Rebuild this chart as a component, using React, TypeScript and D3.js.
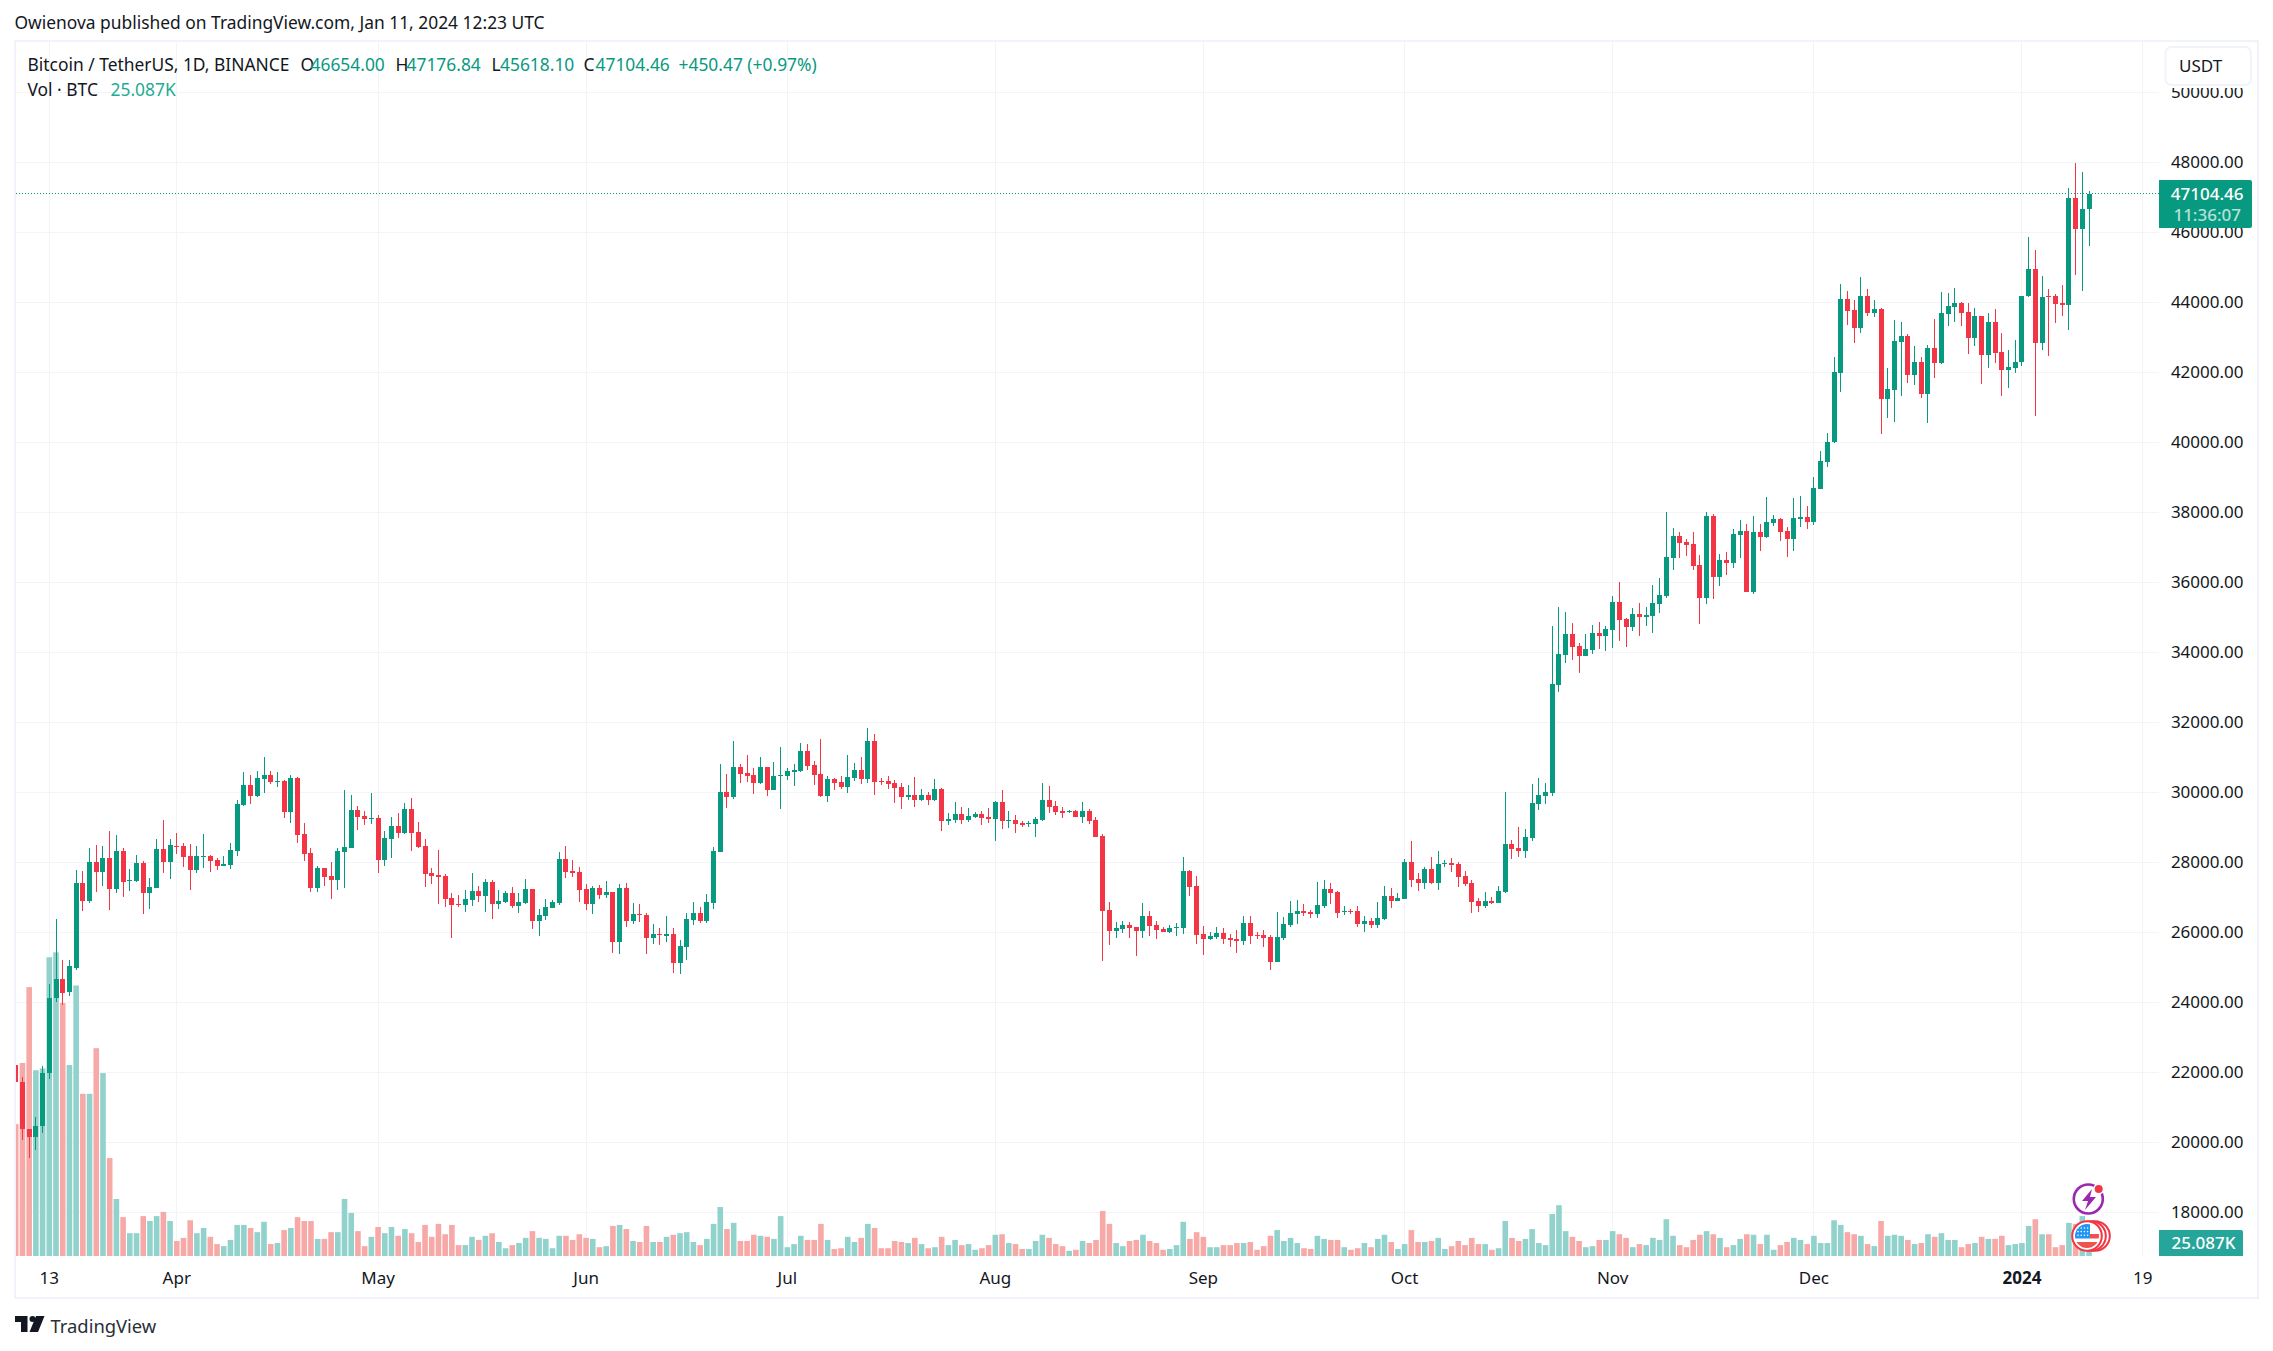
import * as React from 'react'
import * as d3 from 'd3'

const WIDTH = 2273
const HEIGHT = 1351
const FONT = '"Noto Sans", sans-serif'

// daily candles, first one is 2023-03-08
const firstDay = new Date(Date.UTC(2023, 2, 8))

const opens = [
  22218, 21720, 20370, 20150, 20460, 21990, 24113, 24670, 24285, 24990, 27410, 26895, 28010, 27724, 28124, 27238, 28324, 27476, 27467, 27981,
  27124, 27267, 28381, 28010, 28476, 28467, 28181, 27781, 28162, 28181, 28067, 27895, 27924, 28324, 29638, 30210, 29895, 30381, 30495, 30300,
  30324, 29438, 30410, 28810, 28267, 27267, 27838, 27610, 27495, 28295, 28410, 29495, 29324, 29238, 29267, 28067, 28667, 29038, 28838, 29524,
  28867, 28467, 27695, 27638, 27610, 26981, 26800, 26781, 26924, 27181, 27038, 27438, 26810, 26867, 27124, 26752, 26838, 27238, 26324, 26467,
  26695, 26838, 28095, 27752, 27724, 27238, 26810, 27267, 27067, 27152, 25724, 27267, 26324, 26524, 26495, 25838, 25952, 25895, 25952, 25124,
  25581, 26352, 26552, 26324, 26838, 28295, 30010, 29867, 30724, 30552, 30495, 30267, 30724, 30067, 30467, 30467, 30581, 30610, 31181, 30781,
  30524, 29895, 30381, 30295, 30152, 30410, 30638, 30381, 31467, 30324, 30324, 30267, 30152, 29867, 29924, 29781, 29924, 29781, 30095, 29181,
  29210, 29381, 29210, 29295, 29381, 29295, 29238, 29724, 29181, 29210, 29124, 29095, 29095, 29210, 29781, 29610, 29467, 29438, 29467, 29295,
  29467, 29210, 28752, 26638, 26038, 26095, 26210, 26152, 26038, 26467, 26210, 26095, 26010, 26124, 26124, 27752, 27324, 25952, 25810, 25867,
  25981, 25838, 25810, 25752, 26267, 25924, 25924, 25867, 25152, 25838, 26210, 26524, 26610, 26581, 26524, 26752, 27238, 27152, 26581, 26610,
  26610, 26238, 26324, 26210, 26381, 27038, 26895, 26952, 28010, 27524, 27410, 27810, 27410, 27952, 27981, 27952, 27610, 27410, 26895, 26752,
  26895, 26838, 27152, 28524, 28410, 28324, 28695, 29667, 29895, 29981, 33067, 33924, 34524, 34181, 33895, 34067, 34552, 34467, 34638, 35438,
  34952, 34724, 35095, 35010, 35038, 35381, 35610, 36695, 37324, 37152, 37095, 36495, 35552, 37895, 36152, 36638, 36552, 37352, 37467, 35724,
  37438, 37295, 37695, 37810, 37467, 37238, 37810, 37867, 37724, 38667, 39438, 40000, 41990, 44095, 43781, 43267, 44181, 43705, 43810, 41248,
  41495, 42867, 43038, 41924, 42295, 41381, 42695, 42267, 43676, 43867, 43981, 43724, 42981, 43610, 42495, 43438, 42581, 42067, 42124, 42283,
  44179, 44946, 42845, 44181, 44181, 43971, 43924, 46981, 46095, 46654,
]

const highs = [
  22322, 21860, 20370, 20710, 22180, 24530, 26386, 25200, 25200, 27781, 27752, 28410, 28495, 28467, 28895, 28781, 28410, 27810, 28210, 28038,
  27552, 28667, 29210, 28667, 28838, 28552, 28524, 28467, 28810, 28210, 28124, 28181, 28552, 29781, 30581, 30495, 30610, 31010, 30610, 30581,
  30352, 30495, 30438, 29124, 28410, 27895, 27838, 28010, 28410, 30067, 29924, 29610, 29467, 29981, 29352, 28895, 29295, 29410, 29695, 29838,
  29152, 28667, 27838, 28352, 27667, 27124, 27067, 27210, 27695, 27324, 27524, 27495, 27210, 27181, 27295, 27124, 27524, 27238, 26667, 26952,
  26924, 28295, 28467, 28067, 27867, 27381, 27324, 27352, 27467, 27152, 27381, 27410, 26838, 26810, 26552, 26238, 26124, 26467, 26124, 25781,
  26552, 26867, 26724, 27095, 28438, 30810, 30524, 31467, 30810, 31067, 30695, 31010, 30724, 30867, 31295, 30695, 30810, 31410, 31381, 30895,
  31524, 30467, 30410, 30467, 31067, 30838, 31010, 31838, 31667, 30410, 30467, 30352, 30267, 30210, 30438, 30095, 30010, 30381, 30124, 29410,
  29724, 29581, 29552, 29438, 29467, 29552, 29752, 30067, 29467, 29352, 29181, 29181, 29295, 30267, 30181, 29752, 29581, 29495, 29495, 29724,
  29524, 29295, 28810, 26867, 26295, 26324, 26295, 26152, 26838, 26610, 26324, 26152, 26210, 26267, 28152, 27781, 27610, 26181, 26010, 26152,
  26124, 25952, 26067, 26467, 26467, 26010, 26067, 25924, 26581, 26438, 26895, 26924, 26810, 26638, 27438, 27495, 27410, 27181, 26752, 26667,
  26752, 26467, 26410, 26867, 27324, 27267, 27124, 28095, 28610, 27695, 27867, 28152, 28324, 28067, 28124, 28010, 27752, 27495, 26981, 27152,
  27010, 27324, 30010, 28638, 29010, 28952, 30238, 30410, 30267, 34752, 35295, 35152, 34838, 34267, 34524, 34781, 34867, 34752, 35610, 36010,
  34981, 35267, 35410, 35295, 35924, 36124, 38010, 37552, 37438, 37238, 37438, 36781, 38010, 37952, 36810, 36867, 37524, 37781, 37667, 37895,
  37667, 38438, 37924, 37838, 37581, 38410, 38467, 38181, 39010, 39752, 40267, 42429, 44524, 44324, 44067, 44724, 44381, 44067, 43838, 42124,
  43495, 43438, 43095, 42752, 42429, 42771, 43524, 44295, 44267, 44410, 44010, 43981, 43838, 43610, 43695, 43810, 43124, 42638, 42924, 44184,
  45879, 45500, 44752, 44381, 44238, 44495, 47267, 47981, 47724, 47176.84,
]

const lows = [
  21632, 20070, 19549, 19790, 20271, 21813, 24020, 23930, 24170, 24923, 26610, 26840, 27150, 27324, 26638, 27124, 27010, 27181, 27438, 26524,
  26667, 27267, 27695, 27524, 28238, 27867, 27210, 27695, 27838, 27724, 27781, 27895, 27810, 28181, 29610, 29667, 29867, 29981, 30238, 30152,
  29267, 29124, 28552, 28038, 27152, 27152, 27324, 26952, 27210, 27267, 28410, 28924, 29067, 29095, 27695, 27895, 28124, 28695, 28810, 28324,
  28410, 27295, 27381, 26810, 26724, 25838, 26724, 26581, 26752, 26867, 26581, 26381, 26667, 26838, 26695, 26552, 26810, 26095, 25895, 26352,
  26695, 26781, 27552, 27581, 26867, 26638, 26524, 26952, 26981, 25410, 25381, 26152, 26238, 26295, 25381, 25667, 25638, 25724, 24838, 24810,
  25210, 26210, 26267, 26267, 26667, 28295, 29552, 29810, 30267, 30295, 29952, 30238, 29895, 30067, 29524, 30352, 30181, 30581, 30638, 30210,
  29867, 29724, 30067, 30095, 29981, 30324, 30238, 30267, 29924, 30210, 30095, 29695, 29524, 29781, 29581, 29752, 29638, 29752, 28895, 29067,
  29124, 29095, 29152, 29267, 29067, 29124, 28610, 28952, 28981, 28838, 29010, 29010, 28724, 29181, 29410, 29352, 29267, 29410, 29295, 29124,
  29095, 28724, 25181, 25638, 25838, 25981, 25838, 25324, 25838, 25895, 25810, 26010, 25981, 25895, 25952, 27038, 25667, 25352, 25781, 25810,
  25667, 25581, 25410, 25638, 25667, 25810, 25581, 24924, 25152, 25781, 26152, 26238, 26467, 26410, 26410, 26695, 26810, 26410, 26495, 26524,
  26152, 26010, 26124, 26124, 26352, 26695, 26895, 26952, 27295, 27181, 27238, 27381, 27210, 27867, 27724, 27295, 27324, 26552, 26581, 26695,
  26810, 26838, 27124, 28095, 28152, 28124, 28610, 29495, 29667, 29895, 32867, 33695, 33781, 33410, 33895, 33952, 34095, 34038, 34124, 34324,
  34152, 34610, 34467, 34752, 34552, 35124, 35552, 36352, 36695, 36752, 36352, 34810, 35381, 35524, 35895, 36210, 36410, 36695, 35724, 35667,
  36895, 37267, 37610, 37181, 36724, 36895, 37581, 37524, 37638, 38667, 39295, 39971, 41448, 43352, 42848, 43114, 43619, 43590, 40238, 40705,
  40590, 41324, 41705, 41638, 41276, 40562, 41848, 42248, 43324, 43448, 43324, 42524, 42762, 41667, 42124, 42267, 41324, 41552, 41981, 42180,
  44148, 40750, 42638, 42467, 43419, 43610, 43210, 44781, 44324, 45618.1,
]

const closes = [
  21724, 20368, 20150, 20460, 21990, 24113, 24670, 24270, 25050, 27410, 26895, 28010, 27724, 28124, 27238, 28324, 27438, 27495, 27981, 27124,
  27295, 28381, 28010, 28495, 28457, 28152, 27781, 28181, 28181, 28038, 27895, 27962, 28352, 29667, 30210, 29895, 30410, 30495, 30295, 30315,
  29438, 30410, 28781, 28238, 27267, 27838, 27581, 27495, 28324, 28438, 29495, 29295, 29238, 29267, 28067, 28695, 29038, 28838, 29524, 28838,
  28438, 27667, 27610, 27581, 26952, 26781, 26781, 26952, 27181, 27038, 27438, 26810, 26895, 27124, 26752, 26867, 27238, 26324, 26495, 26724,
  26867, 28095, 27724, 27695, 27210, 26810, 27267, 27067, 27152, 25724, 27267, 26324, 26524, 26495, 25838, 25952, 25924, 25952, 25124, 25610,
  26381, 26552, 26324, 26867, 28324, 30010, 29867, 30724, 30524, 30467, 30267, 30724, 30067, 30467, 30486, 30610, 30638, 31181, 30752, 30495,
  29895, 30381, 30267, 30152, 30438, 30638, 30381, 31467, 30295, 30295, 30238, 30124, 29867, 29924, 29781, 29924, 29781, 30095, 29181, 29238,
  29381, 29210, 29324, 29381, 29267, 29238, 29724, 29181, 29210, 29095, 29067, 29124, 29238, 29781, 29581, 29438, 29410, 29467, 29295, 29467,
  29181, 28724, 26610, 26038, 26124, 26210, 26124, 26038, 26467, 26181, 26067, 26010, 26124, 26152, 27752, 27295, 25924, 25810, 25895, 25981,
  25810, 25781, 25752, 26267, 25895, 25895, 25838, 25152, 25867, 26238, 26552, 26610, 26552, 26524, 26781, 27238, 27124, 26552, 26610, 26581,
  26238, 26324, 26210, 26410, 27038, 26895, 26981, 28010, 27495, 27410, 27810, 27410, 27952, 27970, 27924, 27581, 27381, 26867, 26752, 26895,
  26838, 27181, 28524, 28381, 28324, 28724, 29695, 29924, 30010, 33095, 33952, 34524, 34152, 33895, 34095, 34552, 34467, 34667, 35438, 34924,
  34724, 35095, 35010, 35067, 35410, 35638, 36724, 37324, 37124, 37067, 36467, 35552, 37895, 36152, 36638, 36552, 37381, 37467, 35724, 37438,
  37295, 37724, 37810, 37438, 37238, 37838, 37867, 37724, 38695, 39467, 40010, 42000, 44095, 43762, 43267, 44181, 43705, 43810, 41248, 41524,
  42895, 43038, 41924, 42295, 41381, 42695, 42276, 43695, 43895, 43981, 43705, 42990, 43610, 42495, 43438, 42552, 42067, 42152, 42295, 44179,
  44946, 42845, 44151, 44160, 43962, 43924, 46981, 46095, 46667, 47104.46,
]

// volume in thousands of BTC
const volumes = [
  254.5, 372.5, 519, 358.5, 362, 576.6, 586, 488, 368.6, 522, 313, 313, 401, 353, 189, 110, 75, 44, 44, 77,
  67.5, 77, 85, 67.5, 29, 35, 69, 44, 54, 37, 23, 19, 31, 60, 60, 54, 46, 66, 23, 25,
  50, 54, 75, 67.5, 67.5, 33, 33, 46, 46, 110, 83, 48, 19, 37, 56, 44, 56, 39, 52, 44,
  27, 60, 37, 62, 42, 60, 21, 21, 37, 31, 39, 44, 27, 15, 21, 25, 35, 48, 35, 33,
  15, 39, 39, 31, 42, 35, 33, 17, 19, 58, 60, 52, 29, 27, 58, 27, 27, 37, 41, 44,
  46, 27, 21, 33, 62, 94.5, 52, 64, 29, 29, 41, 39, 37, 33, 77, 17, 23, 39, 31, 31,
  62, 31, 13.5, 15, 37, 27, 35, 62, 54, 15, 15, 29, 27, 25, 35, 23, 15, 17, 37, 21,
  31, 21, 23, 12, 15, 21, 41, 42, 25, 23, 13.5, 13.5, 29, 41, 35, 23, 19, 10, 12, 29,
  25, 31, 87, 62, 25, 19, 29, 31, 41, 29, 25, 12, 13.5, 21, 66, 33, 46, 37, 17, 17,
  21, 21, 25, 25, 27, 12, 19, 39, 50, 29, 35, 25, 15, 13.5, 39, 33, 31, 31, 17, 12,
  15, 25, 17, 33, 41, 27, 13.5, 23, 50, 27, 27, 29, 35, 13.5, 19, 29, 21, 35, 23, 23,
  12, 15, 67.5, 35, 29, 33, 52, 25, 21, 81, 98, 48, 37, 29, 17, 19, 31, 31, 48, 42,
  35, 17, 23, 21, 35, 31, 71, 39, 21, 17, 31, 41, 48, 42, 35, 17, 21, 33, 42, 41,
  23, 41, 12, 21, 27, 35, 31, 23, 39, 25, 25, 69, 60, 46, 42, 39, 23, 19, 67.5, 39,
  41, 39, 31, 23, 25, 42, 37, 44, 31, 31, 17, 23, 25, 37, 33, 33, 39, 21, 23, 25,
  58, 71, 42, 42, 17, 21, 64, 62, 77, 25.087,
]

const priceTicks = [50000, 48000, 46000, 44000, 42000, 40000, 38000, 36000, 34000, 32000, 30000, 28000, 26000, 24000, 22000, 20000, 18000]

const timeTicks: { date: Date; label: string; bold?: boolean }[] = [
  { date: new Date(Date.UTC(2023, 2, 13)), label: '13' },
  { date: new Date(Date.UTC(2023, 3, 1)), label: 'Apr' },
  { date: new Date(Date.UTC(2023, 4, 1)), label: 'May' },
  { date: new Date(Date.UTC(2023, 5, 1)), label: 'Jun' },
  { date: new Date(Date.UTC(2023, 6, 1)), label: 'Jul' },
  { date: new Date(Date.UTC(2023, 7, 1)), label: 'Aug' },
  { date: new Date(Date.UTC(2023, 8, 1)), label: 'Sep' },
  { date: new Date(Date.UTC(2023, 9, 1)), label: 'Oct' },
  { date: new Date(Date.UTC(2023, 10, 1)), label: 'Nov' },
  { date: new Date(Date.UTC(2023, 11, 1)), label: 'Dec' },
  { date: new Date(Date.UTC(2024, 0, 1)), label: '2024', bold: true },
  { date: new Date(Date.UTC(2024, 0, 19)), label: '19' },
]

const GREEN = '#089981'
const RED = '#f23645'
const VOL_GREEN = '#92d2cc'
const VOL_RED = '#f7a9a7'
const GRID = '#f3f4f8'
const BORDER = '#f0f3fa'
const TEXT = '#131722'

const x = d3.scaleUtc()
  .domain([firstDay, new Date(Date.UTC(2024, 0, 19))])
  .range([15.75, 2142.7])
const y = d3.scaleLinear().domain([48000, 18000]).range([162.3, 1212.3])
const yVol = d3.scaleLinear().domain([0, 25.087]).range([1256, 1243])

const dayX = (i: number) => x(d3.utcDay.offset(firstDay, i))
const crisp = (v: number) => Math.floor(v) + 0.5

const legendParts: [number, string, string][] = [
  [27.5, 'Bitcoin / TetherUS, 1D, BINANCE', TEXT],
  [300.5, 'O', TEXT],
  [310.5, '46654.00', GREEN],
  [395.5, 'H', TEXT],
  [406.5, '47176.84', GREEN],
  [491.5, 'L', TEXT],
  [500, '45618.10', GREEN],
  [583.5, 'C', TEXT],
  [595.5, '47104.46', GREEN],
  [678.5, '+450.47 (+0.97%)', GREEN],
]

// stars of the little flag, column and row numbers
const starCols = [0, 1, 2, 3]
const starRows = [0, 1, 2]

const App = () => {
  const lastY = crisp(y(closes[closes.length - 1]))
  return <svg width={WIDTH} height={HEIGHT} style={{ position: 'absolute', left: 0, top: 0, background: '#fff' }} fontFamily={FONT}>
    <defs>
      <clipPath id='plot'><rect x={16} y={42} width={2143} height={1214} /></clipPath>
      <clipPath id='axis'><rect x={2159} y={88} width={98} height={1168} /></clipPath>
      <clipPath id='coin'><circle cx={2087} cy={1236} r={12} /></clipPath>
    </defs>

    <text x={14.5} y={22} dominantBaseline='central' fontSize={17.4} fill={TEXT}>Owienova published on TradingView.com, Jan 11, 2024 12:23 UTC</text>

    <rect x={15} y={41} width={2243} height={1257} fill='none' stroke={BORDER} strokeWidth={2} />

    {/* grid */}
    <g stroke={GRID} strokeWidth={1} shapeRendering='crispEdges'>
      {priceTicks.map(p => <line key={p} x1={16} x2={2159} y1={crisp(y(p))} y2={crisp(y(p))} />)}
      {timeTicks.map(t => <line key={t.label} x1={crisp(x(t.date))} x2={crisp(x(t.date))} y1={42} y2={1256} />)}
    </g>

    <g clipPath='url(#plot)'>
      {volumes.map((v, i) => (
        <rect
          key={i}
          x={dayX(i) - 2.8}
          y={yVol(v)}
          width={5.6}
          height={yVol(0) - yVol(v)}
          fill={closes[i] >= opens[i] ? VOL_GREEN : VOL_RED}
        />
      ))}
      {opens.map((o, i) => {
        const c = closes[i]
        const color = c >= o ? GREEN : RED
        const top = y(Math.max(o, c))
        const h = Math.max(y(Math.min(o, c)) - top, 1)
        return <g key={i} fill={color} shapeRendering='crispEdges'>
          <rect x={Math.floor(dayX(i))} y={y(highs[i])} width={1} height={y(lows[i]) - y(highs[i])} />
          <rect x={Math.floor(dayX(i)) - 2} y={top} width={5} height={h} />
        </g>
      })}
      <line x1={16} x2={2159} y1={lastY} y2={lastY} stroke={GREEN} strokeWidth={1} strokeDasharray='1 2' shapeRendering='crispEdges' />
    </g>

    {/* price axis */}
    <g clipPath='url(#axis)' fontSize={17} fill={TEXT} textAnchor='end'>
      {priceTicks.map(p => <text key={p} x={2243.5} y={y(p) - 1} dominantBaseline='central'>{d3.format('.2f')(p)}</text>)}
    </g>

    <rect x={2165.5} y={47} width={85.5} height={38} rx={6} fill='#fff' stroke={BORDER} strokeWidth={2} />
    <text x={2179} y={65} dominantBaseline='central' fontSize={17} fill={TEXT}>USDT</text>

    <path d='M2159 180H2250a2 2 0 0 1 2 2V226a2 2 0 0 1 -2 2H2159Z' fill={GREEN} />
    <text x={2243.5} y={193} dominantBaseline='central' textAnchor='end' fontSize={17} fontWeight={500} fill='#fff'>47104.46</text>
    <text x={2241} y={214} dominantBaseline='central' textAnchor='end' fontSize={17} fontWeight={500} fill='#b5e0d9'>11:36:07</text>

    <path d='M2159 1230H2241a2 2 0 0 1 2 2V1256H2159Z' fill='#26a69a' />
    <text x={2235.5} y={1242} dominantBaseline='central' textAnchor='end' fontSize={17} fontWeight={500} fill='#fff'>25.087K</text>

    {/* time axis */}
    <g fontSize={17} fill={TEXT} textAnchor='middle'>
      {timeTicks.map(t => <text key={t.label} x={x(t.date)} y={1277} dominantBaseline='central' fontWeight={t.bold ? 700 : 400}>{t.label}</text>)}
    </g>

    {/* legend */}
    <g fontSize={17.4}>
      {legendParts.map(([px, s, c]) => <text key={px} x={px} y={63.5} dominantBaseline='central' fill={c}>{s}</text>)}
      <text x={27.5} y={88.5} dominantBaseline='central' fill={TEXT}>Vol · BTC</text>
      <text x={110.5} y={88.5} dominantBaseline='central' fill='#22ab94'>25.087K</text>
    </g>

    {/* event icons */}
    <circle cx={2088.3} cy={1199} r={14.5} fill='#fff' stroke='#9c27b0' strokeWidth={2.6} />
    <path d='M2092 1189L2082 1201H2088L2085 1210L2096 1197H2090Z' fill='#9c27b0' />
    <circle cx={2098.7} cy={1189} r={5.5} fill='#fff' />
    <circle cx={2098.7} cy={1189} r={4} fill={RED} />

    <circle cx={2095} cy={1236} r={14.8} fill='#fff' stroke={RED} strokeWidth={2} />
    <circle cx={2091} cy={1236} r={14.8} fill='#fff' stroke={RED} strokeWidth={2} />
    <circle cx={2087} cy={1236} r={14.8} fill='#fff' stroke={RED} strokeWidth={2} />
    <g clipPath='url(#coin)'>
      <rect x={2075} y={1224} width={26} height={26} fill='#fff' />
      <rect x={2090} y={1234} width={12} height={4.5} fill='#ef5350' />
      <rect x={2075} y={1242} width={26} height={8} fill='#ef5350' />
      <rect x={2075} y={1224} width={15} height={14.5} fill='#2196f3' />
      {starRows.map(r => starCols.map(k => (
        <circle key={`${r}-${k}`} cx={2078 + k * 3.2} cy={1228 + r * 3.6} r={0.8} fill='#fff' />
      )))}
    </g>

    {/* logo */}
    <path d='M15 1316H27.5V1332H21V1322H15Z' fill={TEXT} />
    <circle cx={32.5} cy={1319} r={3} fill={TEXT} />
    <path d='M36 1316H44.5L38 1332H29.5Z' fill={TEXT} />
    <text x={50.5} y={1325} dominantBaseline='central' fontSize={18.4} fill='#2a2e39'>TradingView</text>
  </svg>
}

export default App
